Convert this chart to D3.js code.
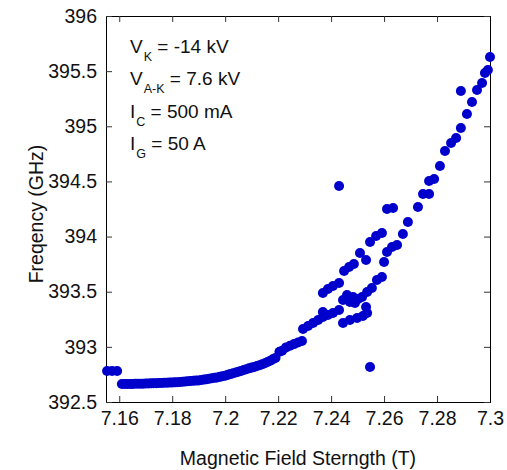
<!DOCTYPE html>
<html>
<head>
<meta charset="utf-8">
<script src="https://cdn.jsdelivr.net/npm/d3@7"></script>
<style>
  body { margin: 0; background: #fff; }
  text { font-family: "Liberation Sans", Arial, sans-serif; fill: #111; }
</style>
</head>
<body>
<div id="chart"></div>
<script>
// field strength (T), frequency (GHz) pairs
const offsetPts = [[7.1554, 392.781], [7.1573, 392.781], [7.1592, 392.781]];

const mainCurve = [
  [7.161, 392.663], [7.162, 392.663], [7.163, 392.663], [7.164, 392.664], [7.165, 392.664],
  [7.166, 392.665], [7.167, 392.665], [7.168, 392.666], [7.169, 392.666], [7.170, 392.667],
  [7.171, 392.668], [7.172, 392.669], [7.173, 392.670], [7.174, 392.671], [7.175, 392.672],
  [7.176, 392.673], [7.177, 392.674], [7.178, 392.675], [7.179, 392.676], [7.180, 392.677],
  [7.181, 392.678], [7.182, 392.680], [7.183, 392.682], [7.184, 392.684], [7.185, 392.686],
  [7.186, 392.688], [7.187, 392.690], [7.188, 392.692], [7.189, 392.694], [7.190, 392.696],
  [7.191, 392.699], [7.192, 392.703], [7.193, 392.707], [7.194, 392.711], [7.195, 392.715],
  [7.196, 392.719], [7.197, 392.723], [7.198, 392.728], [7.199, 392.733], [7.200, 392.739],
  [7.201, 392.746], [7.202, 392.753], [7.203, 392.760], [7.204, 392.767], [7.205, 392.774],
  [7.206, 392.782], [7.207, 392.790], [7.208, 392.797], [7.209, 392.805], [7.210, 392.812],
  [7.211, 392.818], [7.212, 392.826], [7.213, 392.834], [7.214, 392.843], [7.215, 392.852],
  [7.216, 392.862], [7.217, 392.874], [7.218, 392.888], [7.219, 392.900], [7.2205, 392.955],
  [7.2215, 392.965], [7.223, 392.995], [7.2245, 393.010], [7.226, 393.025], [7.2275, 393.040],
  [7.229, 393.053]
];

const lowerBranch = [
  [7.2294, 393.162], [7.2313, 393.189], [7.2332, 393.216], [7.2351, 393.243], [7.2369, 393.271],
  [7.2369, 393.316], [7.2388, 393.289], [7.2407, 393.307], [7.2430, 393.334],
  [7.2445, 393.216], [7.2471, 393.243], [7.2498, 393.262], [7.2520, 393.280], [7.2536, 393.307],
  [7.2532, 393.361]
];

const midBranch = [
  [7.2445, 393.425], [7.2460, 393.470], [7.2471, 393.407], [7.2483, 393.452], [7.2490, 393.398],
  [7.2502, 393.434], [7.2517, 393.452], [7.2536, 393.497], [7.2554, 393.534], [7.2573, 393.606],
  [7.2592, 393.633]
];

const upperBranch = [
  [7.2369, 393.488], [7.2388, 393.525], [7.2407, 393.552], [7.2430, 393.579], [7.2449, 393.688],
  [7.2468, 393.724], [7.2486, 393.751], [7.2509, 393.851], [7.2532, 393.788], [7.2547, 393.951],
  [7.2570, 394.005], [7.2592, 394.032], [7.2600, 393.769], [7.2611, 393.860], [7.2630, 393.905],
  [7.2649, 393.923], [7.2671, 394.023], [7.2690, 394.132], [7.2611, 394.250], [7.2634, 394.259],
  [7.2728, 394.268], [7.2747, 394.386], [7.2770, 394.386], [7.2770, 394.504], [7.2789, 394.522],
  [7.2811, 394.640], [7.2830, 394.776], [7.2853, 394.848], [7.2872, 394.894], [7.2890, 394.984],
  [7.2913, 395.111], [7.2932, 395.220], [7.2951, 395.329], [7.2890, 395.320], [7.2970, 395.392],
  [7.2981, 395.483], [7.2992, 395.510], [7.3000, 395.628]
];

const strayPts = [[7.2430, 394.458], [7.2547, 392.817]];

const xTicks = [7.16, 7.18, 7.2, 7.22, 7.24, 7.26, 7.28, 7.3];
const yTicks = [392.5, 393, 393.5, 394, 394.5, 395, 395.5, 396];

// label, subscript, rest
const notes = [
  ["V", "K", " = -14 kV"],
  ["V", "A-K", " = 7.6 kV"],
  ["I", "C", " = 500 mA"],
  ["I", "G", " = 50 A"]
];

const W = 507, H = 470;
const svg = d3.select("#chart").append("svg")
    .attr("width", W)
    .attr("height", H);

const x = d3.scaleLinear().domain([7.155, 7.3]).range([106, 490]);
const y = d3.scaleLinear().domain([392.5, 396]).range([402, 16]);

const fmt = d => String(+d.toFixed(2));

// axes, ticks pointing inward on all four sides
svg.append("g")
    .attr("transform", `translate(0,${y.range()[0]})`)
    .call(d3.axisBottom(x).tickValues(xTicks).tickSize(-6).tickPadding(9).tickFormat(fmt));
svg.append("g")
    .attr("transform", `translate(0,${y.range()[1]})`)
    .call(d3.axisTop(x).tickValues(xTicks).tickSize(-6).tickFormat(""));
svg.append("g")
    .attr("transform", `translate(${x.range()[0]},0)`)
    .call(d3.axisLeft(y).tickValues(yTicks).tickSize(-6).tickPadding(9).tickFormat(fmt));
svg.append("g")
    .attr("transform", `translate(${x.range()[1]},0)`)
    .call(d3.axisRight(y).tickValues(yTicks).tickSize(-6).tickFormat(""));

svg.selectAll(".domain").attr("stroke", "#000");
svg.selectAll(".tick line").attr("stroke", "#333");
svg.selectAll(".tick text").attr("font-size", 19.5).attr("fill", "#111")
    .attr("font-family", "'Liberation Sans', Arial, sans-serif");

// axis titles
svg.append("text")
    .attr("x", 298).attr("y", 465)
    .attr("text-anchor", "middle")
    .attr("font-size", 19.5)
    .text("Magnetic Field Sterngth (T)");

svg.append("text")
    .attr("transform", "translate(43,214) rotate(-90)")
    .attr("text-anchor", "middle")
    .attr("font-size", 19.5)
    .text("Freqency (GHz)");

// run conditions
const note = svg.append("g").selectAll("text")
  .data(notes)
  .join("text")
    .attr("x", 130)
    .attr("y", (d, i) => 53 + i * 32.3)
    .attr("font-size", 19);
note.append("tspan").text(d => d[0]);
note.append("tspan").attr("font-size", 12.5).attr("dy", 8).attr("dx", 1).text(d => d[1]);
note.append("tspan").attr("dy", -8).text(d => d[2]);

// data points
const allPts = [].concat(offsetPts, mainCurve, lowerBranch, midBranch, upperBranch, strayPts);
svg.append("g").selectAll("circle")
  .data(allPts)
  .join("circle")
    .attr("cx", d => x(d[0]))
    .attr("cy", d => y(d[1]))
    .attr("r", 5)
    .attr("fill", "#0000cc");
</script>
</body>
</html>
